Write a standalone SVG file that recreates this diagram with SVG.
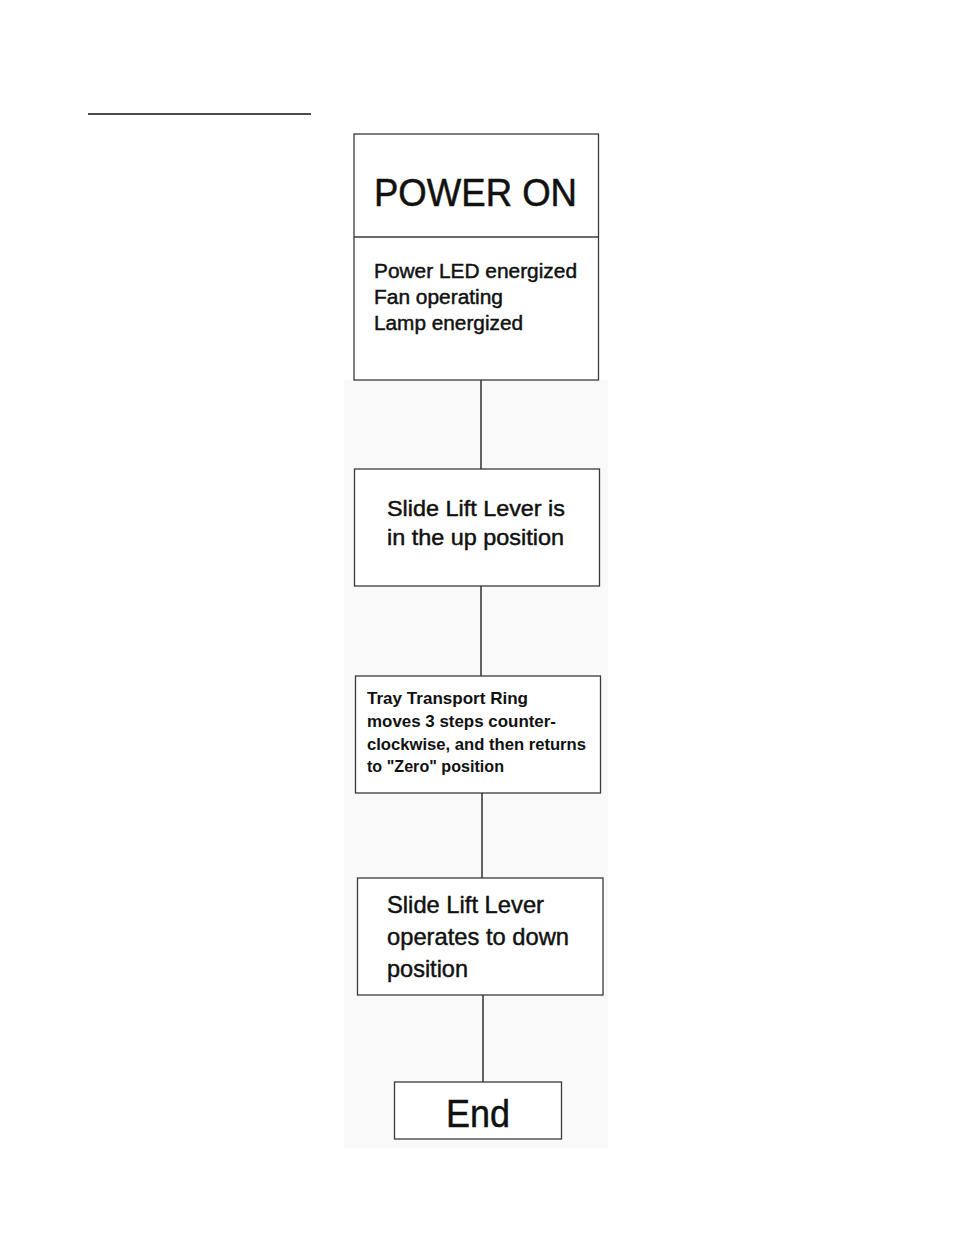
<svg xmlns="http://www.w3.org/2000/svg" width="954" height="1235" viewBox="0 0 954 1235">
<style>
.box{fill:#ffffff;stroke:#3a3a3a;stroke-width:1.3}
.conn{stroke:#111;stroke-width:1.3;fill:none}
text{font-family:"Liberation Sans",Arial,Helvetica,sans-serif;fill:#111}
.big{font-size:38px;stroke:#111;stroke-width:0.5}
.mid{font-size:20px;stroke:#111;stroke-width:0.45}
.lg{font-size:22px;stroke:#111;stroke-width:0.45}
.sm{font-size:17px;font-weight:bold}
.xl{font-size:24px;stroke:#111;stroke-width:0.45}
</style>
<rect x="0" y="0" width="954" height="1235" fill="#ffffff"/>
<rect x="344" y="380" width="264" height="768" fill="#f9f9f9"/>
<line x1="88" y1="114" x2="311" y2="114" stroke="#111" stroke-width="1.5"/>
<g id="connectors">
<line class="conn" x1="481" y1="380" x2="481" y2="469"/>
<line class="conn" x1="481" y1="586" x2="481" y2="676"/>
<line class="conn" x1="482" y1="793" x2="482" y2="878"/>
<line class="conn" x1="483" y1="995" x2="483" y2="1082"/>
</g>
<g id="power-on">
<rect class="box" x="354" y="134" width="244.5" height="246"/>
<line x1="354" y1="237" x2="598.5" y2="237" stroke="#3a3a3a" stroke-width="1.3"/>
<text class="big" x="374" y="206" textLength="203" lengthAdjust="spacingAndGlyphs">POWER ON</text>
<text class="mid" x="374" y="278" textLength="203" lengthAdjust="spacingAndGlyphs">Power LED energized</text>
<text class="mid" x="374" y="304" textLength="129" lengthAdjust="spacingAndGlyphs">Fan operating</text>
<text class="mid" x="374" y="330" textLength="149" lengthAdjust="spacingAndGlyphs">Lamp energized</text>
</g>
<g id="lever-up">
<rect class="box" x="354.5" y="469" width="245" height="117"/>
<text class="lg" x="387" y="516" textLength="178" lengthAdjust="spacingAndGlyphs">Slide Lift Lever is</text>
<text class="lg" x="387" y="545" textLength="177" lengthAdjust="spacingAndGlyphs">in the up position</text>
</g>
<g id="tray-ring">
<rect class="box" x="355.5" y="676" width="245" height="117"/>
<text class="sm" x="367" y="704" textLength="161" lengthAdjust="spacingAndGlyphs">Tray Transport Ring</text>
<text class="sm" x="367" y="727" textLength="189" lengthAdjust="spacingAndGlyphs">moves 3 steps counter-</text>
<text class="sm" x="367" y="750" textLength="219" lengthAdjust="spacingAndGlyphs">clockwise, and then returns</text>
<text class="sm" x="367" y="772" textLength="137" lengthAdjust="spacingAndGlyphs">to "Zero" position</text>
</g>
<g id="lever-down">
<rect class="box" x="357.5" y="878" width="245.5" height="117"/>
<text class="xl" x="387" y="913" textLength="157" lengthAdjust="spacingAndGlyphs">Slide Lift Lever</text>
<text class="xl" x="387" y="945" textLength="182" lengthAdjust="spacingAndGlyphs">operates to down</text>
<text class="xl" x="387" y="977" textLength="81" lengthAdjust="spacingAndGlyphs">position</text>
</g>
<g id="end">
<rect class="box" x="394.5" y="1082" width="167" height="57"/>
<text class="big" x="446" y="1127" textLength="64" lengthAdjust="spacingAndGlyphs">End</text>
</g>
</svg>
